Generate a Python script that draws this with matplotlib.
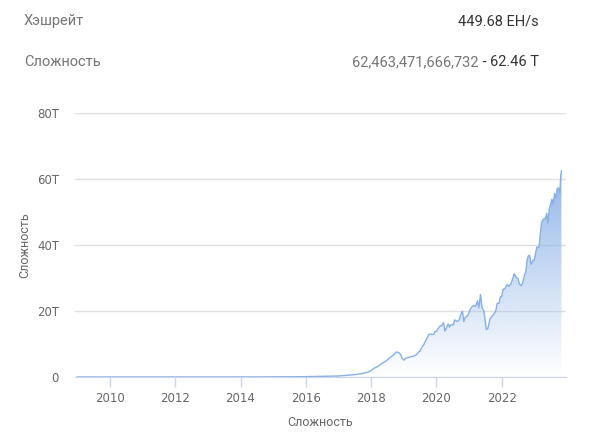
import numpy as np
import matplotlib
matplotlib.use("Agg")
import matplotlib.pyplot as plt
from matplotlib.colors import to_rgb

# сложность сети (T), по годам
years = [2009.0, 2010.0, 2011.0, 2012.0, 2013.0, 2013.5, 2014.0, 2014.5, 2015.0, 2015.5,
         2016.0, 2016.5, 2017.0, 2017.25, 2017.5, 2017.75, 2017.9, 2018.0,
         2018.08, 2018.17, 2018.25, 2018.33, 2018.42, 2018.5, 2018.58, 2018.65, 2018.72, 2018.77,
         2018.84, 2018.9, 2018.95, 2019.0, 2019.05, 2019.12, 2019.2, 2019.3, 2019.38, 2019.44,
         2019.5, 2019.55, 2019.62, 2019.66, 2019.72, 2019.76, 2019.8, 2019.84, 2019.88, 2019.92,
         2019.96, 2020.0, 2020.06, 2020.12, 2020.16, 2020.22, 2020.26, 2020.3, 2020.36, 2020.4,
         2020.44, 2020.52, 2020.56, 2020.64, 2020.7, 2020.76, 2020.8, 2020.84, 2020.88, 2020.96,
         2021.04, 2021.1, 2021.16, 2021.2, 2021.26, 2021.3, 2021.35, 2021.4, 2021.46, 2021.5,
         2021.53, 2021.57, 2021.6, 2021.64, 2021.7, 2021.76, 2021.82, 2021.86, 2021.92, 2021.96,
         2022.0, 2022.04, 2022.1, 2022.16, 2022.22, 2022.28, 2022.34, 2022.38, 2022.44, 2022.5,
         2022.54, 2022.6, 2022.64, 2022.7, 2022.74, 2022.78, 2022.82, 2022.86, 2022.9, 2022.96,
         2023.0, 2023.04, 2023.08, 2023.14, 2023.18, 2023.22, 2023.28, 2023.34, 2023.38, 2023.42,
         2023.46, 2023.5, 2023.54, 2023.58, 2023.62, 2023.66, 2023.7, 2023.74, 2023.78, 2023.81,
         2023.83]
difficulty = [0.0, 0.0, 0.0, 0.0, 0.000003, 0.00003, 0.0014, 0.017, 0.04, 0.048,
              0.1, 0.2, 0.31, 0.5, 0.7, 1.1, 1.5, 1.9,
              2.6, 3.0, 3.5, 4.1, 4.6, 5.2, 5.9, 6.4, 7.0, 7.6,
              7.4, 6.9, 5.7, 5.1, 5.6, 5.9, 6.1, 6.3, 6.7, 7.4,
              7.9, 8.9, 9.9, 10.8, 11.9, 12.8, 13.0, 13.0, 12.9, 12.9,
              13.8, 13.8, 14.8, 15.5, 15.5, 16.5, 13.9, 14.7, 16.1, 15.1,
              15.8, 15.8, 17.3, 16.8, 17.3, 19.3, 19.9, 16.8, 18.0, 18.6,
              20.6, 21.4, 21.7, 21.4, 23.1, 20.9, 25.0, 21.0, 19.9, 16.5,
              14.4, 14.6, 15.6, 17.6, 18.4, 19.0, 20.1, 22.3, 22.4, 24.3,
              24.3, 26.6, 26.7, 28.0, 27.5, 28.2, 29.8, 31.3, 30.3, 29.9,
              28.2, 27.7, 28.4, 30.9, 32.0, 35.6, 36.8, 36.8, 34.2, 35.4,
              35.4, 37.6, 39.4, 39.2, 43.1, 46.8, 47.9, 48.0, 49.6, 46.7,
              51.2, 52.4, 53.9, 52.4, 55.6, 54.2, 57.1, 57.3, 55.8, 61.0,
              62.46]

x_ticks = [2010, 2012, 2014, 2016, 2018, 2020, 2022]
y_ticks = [0, 20, 40, 60, 80]
y_labels = ["0", "20T", "40T", "60T", "80T"]

line_color = "#86b0e8"
grey = "#666666"

fig = plt.figure(figsize=(5.9, 4.41), dpi=100)
ax = fig.add_axes([75 / 590, 1 - 377 / 441, (566 - 75) / 590, (377 - 113) / 441])

# градиентная заливка под линией
poly = ax.fill_between(years, difficulty, 0, color="none", lw=0)
r, g, b = to_rgb("#8db3e8")
grad = np.zeros((256, 1, 4))
grad[:, 0, 0] = r
grad[:, 0, 1] = g
grad[:, 0, 2] = b
grad[:, 0, 3] = np.linspace(0.0, 0.95, 256)
img = ax.imshow(grad, extent=[years[0], years[-1], 0, max(difficulty)],
                origin="lower", aspect="auto", zorder=1)
img.set_clip_path(poly.get_paths()[0], transform=ax.transData)
ax.plot(years, difficulty, color=line_color, lw=1.0, zorder=2)

ax.set_xlim(2008.93, 2023.97)
ax.set_ylim(0, 80)
ax.set_xticks(x_ticks)
ax.set_yticks(y_ticks)
ax.set_yticklabels(y_labels)

for s in ["top", "right", "left"]:
    ax.spines[s].set_visible(False)
ax.spines["bottom"].set_color("#ccd6eb")
ax.grid(axis="y", color="#e0e0e0", lw=1)
ax.set_axisbelow(True)
ax.tick_params(axis="x", colors="#ccd6eb", length=7, width=1, labelcolor=grey, labelsize=8.5, pad=4)
ax.tick_params(axis="y", length=0, labelcolor=grey, labelsize=8.5, pad=11.5)

ax.set_ylabel("Сложность", color=grey, fontsize=9, family="Roboto", labelpad=4)
ax.set_xlabel("Сложность", color=grey, fontsize=9, family="Roboto", labelpad=8)

# шапка
hdr = dict(family="Roboto", fontsize=10.5, va="center")
y1 = 1 - 21 / 441
y2 = 1 - 62 / 441
right = 539 / 590
fig.text(24 / 590, y1, "Хэшрейт", color="#757575", **hdr)
fig.text(right, y1, "449.68 EH/s", color="#333333", ha="right", **hdr)
fig.text(24 / 590, y2, "Сложность", color="#757575", **hdr)
t1 = fig.text(right, y2, "62.46 T", color="#333333", ha="right", **hdr)
t2 = fig.text(0, 0, " - ", color="#333333", ha="right", **hdr)
t3 = fig.text(0, 0, "62,463,471,666,732", color="#757575", ha="right", **hdr)
fig.canvas.draw()
rend = fig.canvas.get_renderer()
bb1 = t1.get_window_extent(rend)
t2.set_position((bb1.x0 / fig.bbox.width, y2))
fig.canvas.draw()
bb2 = t2.get_window_extent(rend)
t3.set_position((bb2.x0 / fig.bbox.width, y2))

fig.savefig("out.png", dpi=100)
